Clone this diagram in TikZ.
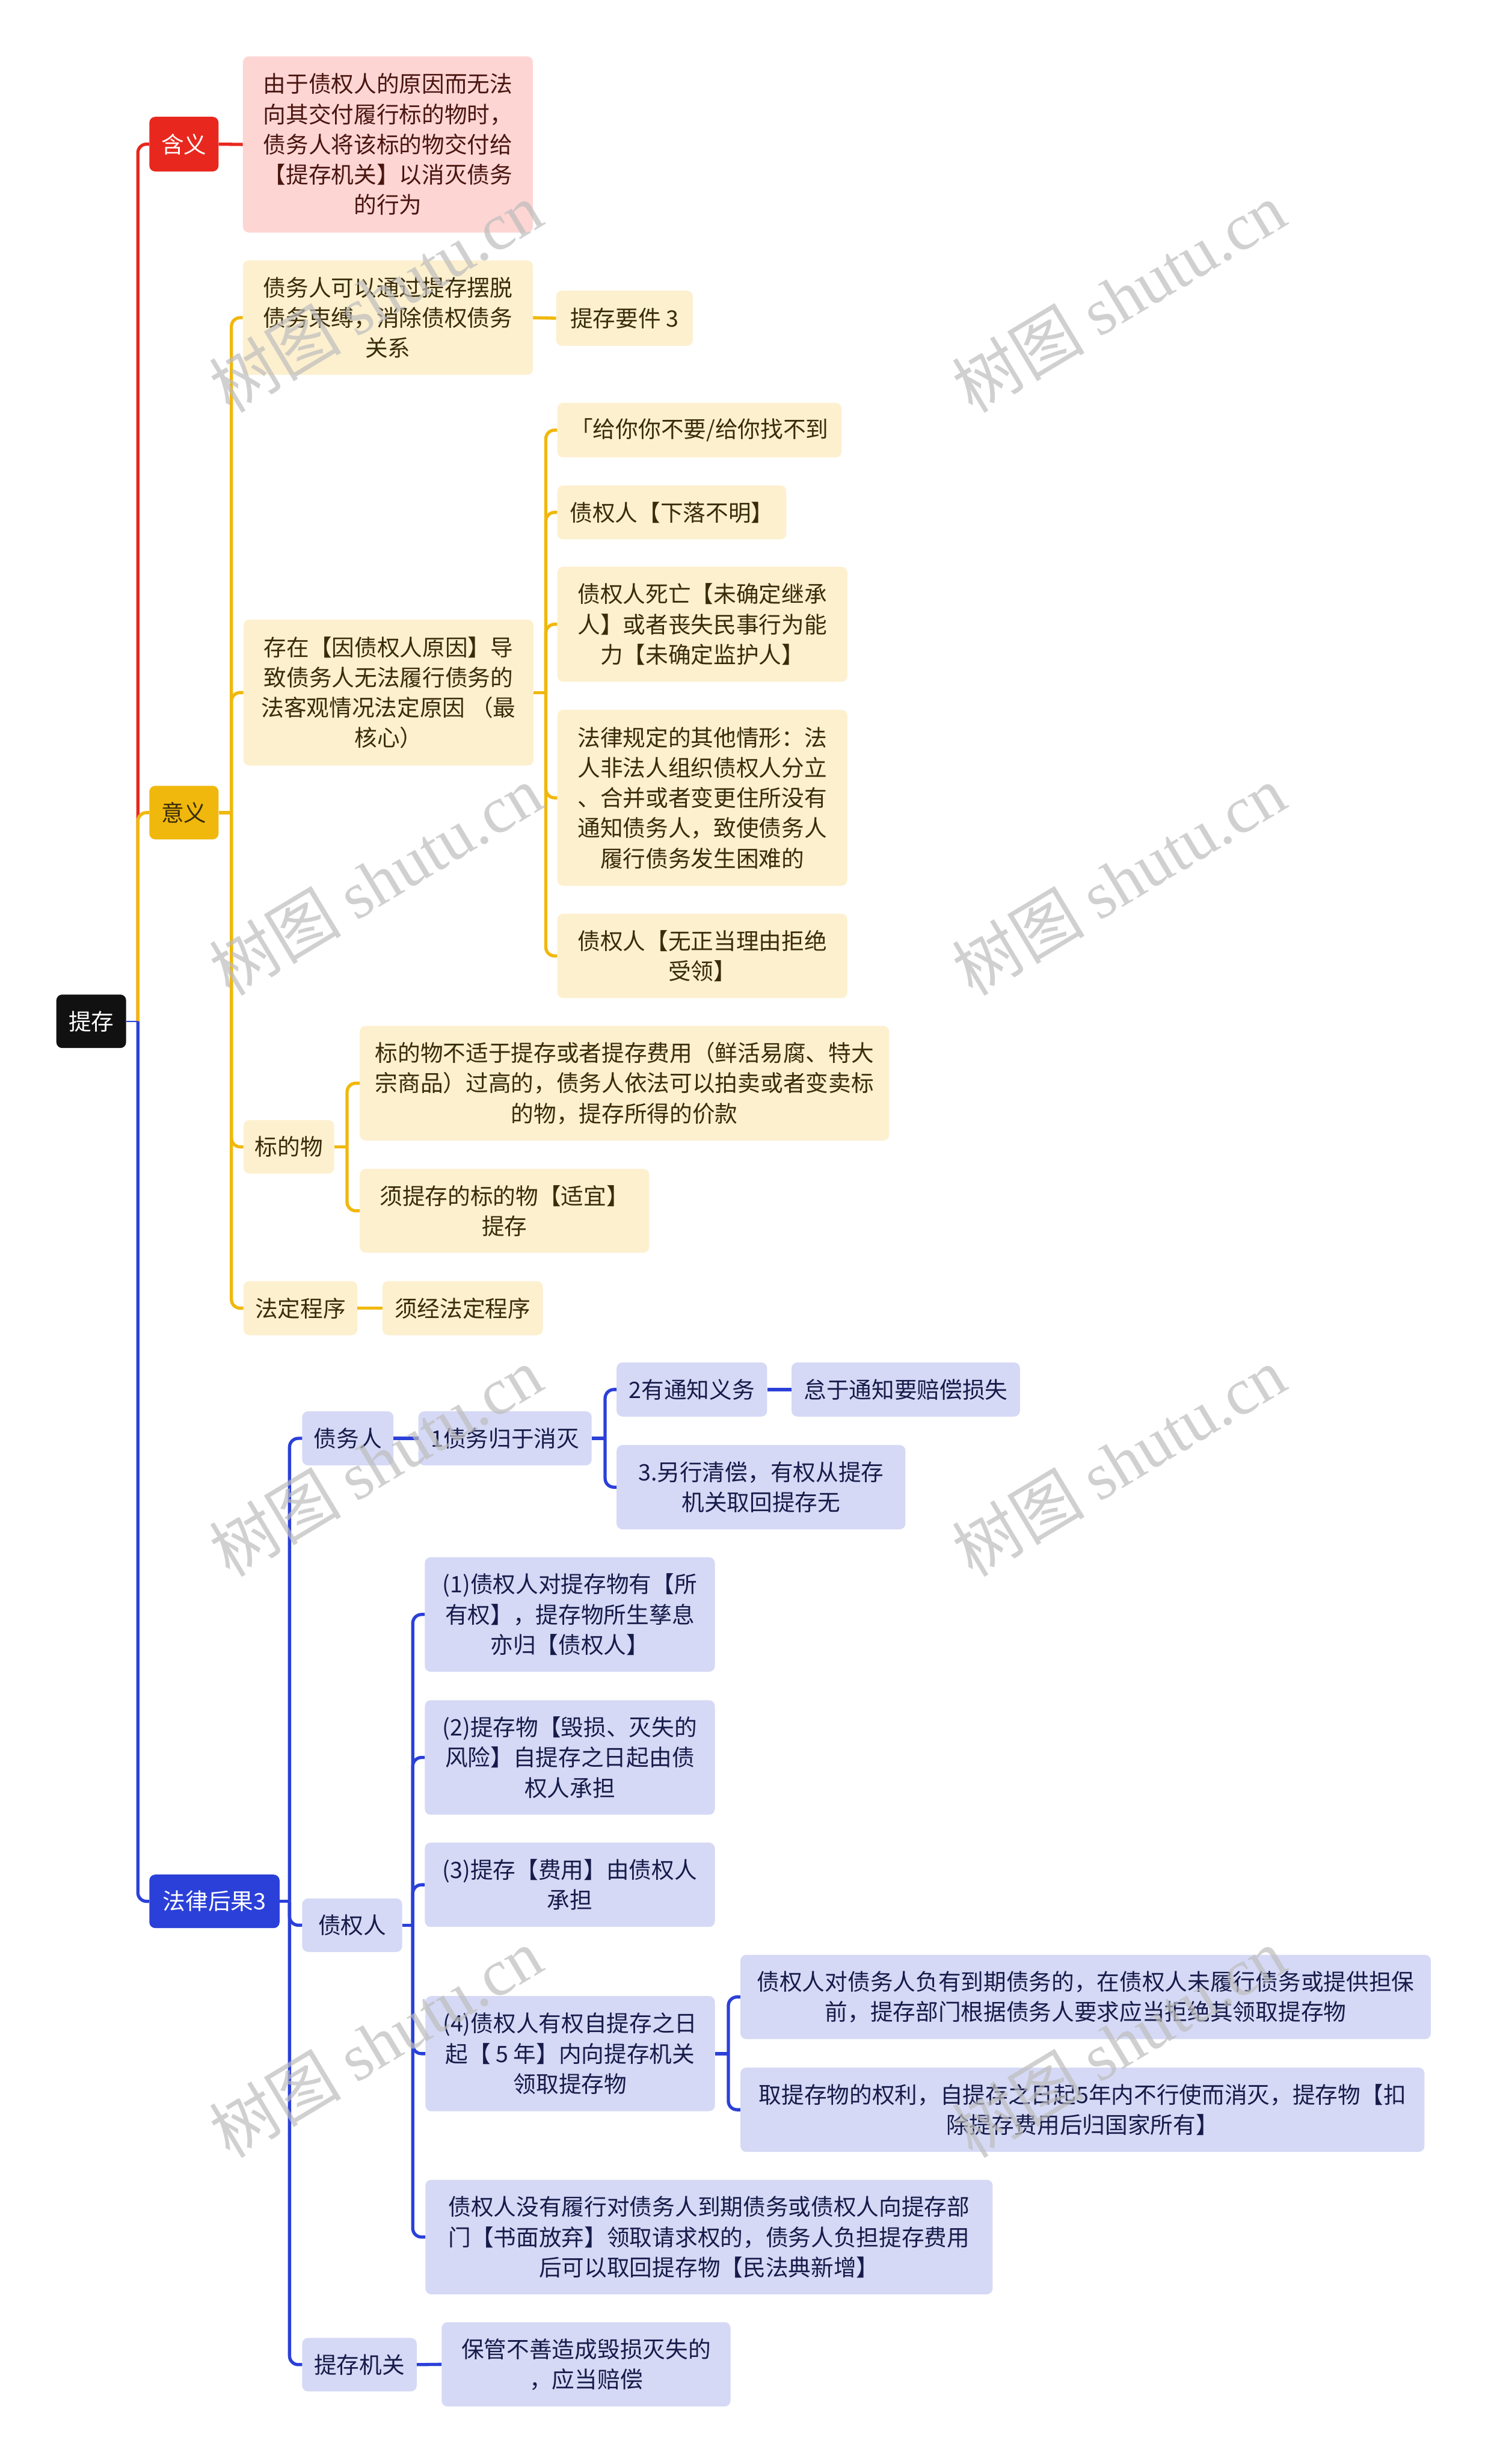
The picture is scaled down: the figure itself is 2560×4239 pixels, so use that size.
\documentclass[tikz,border=0pt]{standalone}
\usepackage{fontspec}
\setmainfont{Noto Sans CJK SC}
\newfontfamily\wmserif{Liberation Serif}
\newcommand\nfont{\fontsize{39pt}{52pt}\selectfont}
\newcommand\wmfont{\fontsize{114pt}{120pt}\selectfont}
\definecolor{cRed}{HTML}{E8281E}
\definecolor{cPink}{HTML}{FDD6D4}
\definecolor{cPinkT}{HTML}{4A1510}
\definecolor{cYel}{HTML}{F0B80C}
\definecolor{cYelL}{HTML}{FDF0CF}
\definecolor{cYelT}{HTML}{3A2C0B}
\definecolor{cBlue}{HTML}{2B40D8}
\definecolor{cBlueL}{HTML}{D5D9F5}
\definecolor{cBlueT}{HTML}{161B4A}
\definecolor{cBlack}{HTML}{111111}
\definecolor{cWm}{HTML}{BDBDBD}
\begin{document}
\begin{tikzpicture}[x=1pt,y=-1pt,
  nbox/.style={rounded corners=10pt, inner sep=0pt, align=center, font=\nfont},
  sz/.style 2 args={minimum width=#1, minimum height=#2},
  rootbox/.style={nbox, fill=cBlack, text=white},
  redbox/.style={nbox, fill=cRed, text=white},
  pinkbox/.style={nbox, fill=cPink, text=cPinkT},
  yelbox/.style={nbox, fill=cYel, text=cYelT},
  ylbox/.style={nbox, fill=cYelL, text=cYelT},
  bluebox/.style={nbox, fill=cBlue, text=white},
  blbox/.style={nbox, fill=cBlueL, text=cBlueT},
  rline/.style={draw=cRed, line width=5.5pt, rounded corners=15pt},
  yline/.style={draw=cYel, line width=5.5pt, rounded corners=15pt},
  bline/.style={draw=cBlue, line width=5.5pt, rounded corners=15pt},
  wm/.style={text=cWm, opacity=0.7, font=\wmfont, inner sep=0pt, rotate=31}
]
\useasboundingbox (0,0) rectangle (2560,4239);
\fill[white] (0,0) rectangle (2560,4239);

% root
\node[rootbox, sz={120}{92}] (rootn) at (157,1757) {提存};

% red branch
\node[redbox, sz={119}{94}] (hanyi) at (316.5,248) {含义};
\node[pinkbox, sz={499}{303}] (hanyiT) at (667.5,248.5) {由于债权人的原因而无法\\向其交付履行标的物时，\\债务人将该标的物交付给\\【提存机关】以消灭债务\\的行为};

% yellow branch
\node[yelbox, sz={119}{92}] (yiyi) at (316.5,1398) {意义};
\node[ylbox, sz={499}{197}] (y1) at (667.5,546.5) {债务人可以通过提存摆脱\\债务束缚，消除债权债务\\关系};
\node[ylbox, sz={235}{95}] (y1a) at (1074.5,547.5) {提存要件 3};
\node[ylbox, sz={499}{251}] (y2) at (668.5,1191.5) {存在【因债权人原因】导\\致债务人无法履行债务的\\法客观情况法定原因 （最\\核心）};
\node[ylbox, sz={489}{94}] (y2a) at (1203.5,740) {「给你你不要/给你找不到};
\node[ylbox, sz={394}{93}] (y2b) at (1156,881.5) {债权人【下落不明】};
\node[ylbox, sz={499}{198}] (y2c) at (1208.5,1074) {债权人死亡【未确定继承\\人】或者丧失民事行为能\\力【未确定监护人】};
\node[ylbox, sz={499}{303}] (y2d) at (1208.5,1372.5) {法律规定的其他情形：法\\人非法人组织债权人分立\\、合并或者变更住所没有\\通知债务人，致使债务人\\履行债务发生困难的};
\node[ylbox, sz={499}{145}] (y2e) at (1208.5,1644.5) {债权人【无正当理由拒绝\\受领】};
\node[ylbox, sz={156}{92}] (y3) at (497,1973) {标的物};
\node[ylbox, sz={911}{197}] (y3a) at (1074.5,1863.5) {标的物不适于提存或者提存费用（鲜活易腐、特大\\宗商品）过高的，债务人依法可以拍卖或者变卖标\\的物，提存所得的价款};
\node[ylbox, sz={498}{144}] (y3b) at (868,2083) {须提存的标的物【适宜】\\提存};
\node[ylbox, sz={196}{93}] (y4) at (517,2250.5) {法定程序};
\node[ylbox, sz={276}{93}] (y4a) at (796,2250.5) {须经法定程序};

% blue branch
\node[bluebox, sz={224}{92}] (flhg) at (369,3271) {法律后果3};
\node[blbox, sz={157}{93}] (b1) at (598.5,2474.5) {债务人};
\node[blbox, sz={298}{93}] (b1a) at (869,2474.5) {1债务归于消灭};
\node[blbox, sz={259}{93}] (b1a1) at (1190.5,2390.5) {2有通知义务};
\node[blbox, sz={393}{93}] (b1a1a) at (1558.5,2390.5) {怠于通知要赔偿损失};
\node[blbox, sz={497}{145}] (b1a2) at (1309.5,2558.5) {3.另行清偿，有权从提存\\机关取回提存无};
\node[blbox, sz={172}{92}] (b2) at (606,3312) {债权人};
\node[blbox, sz={499}{197}] (b2a) at (980.5,2777.5) {(1)债权人对提存物有【所\\有权】，提存物所生孳息\\亦归【债权人】};
\node[blbox, sz={499}{197}] (b2b) at (980.5,3023.5) {(2)提存物【毁损、灭失的\\风险】自提存之日起由债\\权人承担};
\node[blbox, sz={499}{145}] (b2c) at (980.5,3242.5) {(3)提存【费用】由债权人\\承担};
\node[blbox, sz={498}{198}] (b2d) at (981,3533) {(4)债权人有权自提存之日\\起【 5 年】内向提存机关\\领取提存物};
\node[blbox, sz={1188}{145}] (b2d1) at (1868,3435.5) {债权人对债务人负有到期债务的，在债权人未履行债务或提供担保\\前，提存部门根据债务人要求应当拒绝其领取提存物};
\node[blbox, sz={1177}{145}] (b2d2) at (1862.5,3629.5) {取提存物的权利，自提存之日起5年内不行使而消灭，提存物【扣\\除提存费用后归国家所有】};
\node[blbox, sz={976}{197}] (b2e) at (1220,3848.5) {债权人没有履行对债务人到期债务或债权人向提存部\\门【书面放弃】领取请求权的，债务人负担提存费用\\后可以取回提存物【民法典新增】};
\node[blbox, sz={197}{92}] (b3) at (618.5,4068) {提存机关};
\node[blbox, sz={497}{145}] (b3a) at (1008.5,4067.5) {保管不善造成毁损灭失的\\，应当赔偿};

% junction coordinates
\coordinate (tj) at ([xshift=20pt]rootn.east);
\coordinate (yj) at ([xshift=22pt]yiyi.east);
\coordinate (y2j) at ([xshift=21pt]y2.east);
\coordinate (y3j) at ([xshift=22pt]y3.east);
\coordinate (bj) at ([xshift=17pt]flhg.east);
\coordinate (b1j) at ([xshift=23pt]b1a.east);
\coordinate (b2j) at ([xshift=18pt]b2.east);
\coordinate (b2dj) at ([xshift=23pt]b2d.east);

% trunk
\draw[rline] (tj) |- (hanyi.west);
\draw[yline] (tj) |- (yiyi.west);
\draw[bline] (tj) |- (flhg.west);
\draw[draw=cBlue, line width=2.5pt] (rootn.east) -- (tj);

% red
\draw[rline] (hanyi.east) -- (hanyiT.west);

% yellow
\draw[yline] (yiyi.east) -- (yj);
\foreach \c in {y1,y2,y3,y4} \draw[yline] (yj) |- (\c.west);
\draw[yline] (y1.east) -- (y1a.west);
\draw[yline] (y2.east) -- (y2j);
\foreach \c in {y2a,y2b,y2c,y2d,y2e} \draw[yline] (y2j) |- (\c.west);
\draw[yline] (y3.east) -- (y3j);
\foreach \c in {y3a,y3b} \draw[yline] (y3j) |- (\c.west);
\draw[yline] (y4.east) -- (y4a.west);

% blue
\draw[bline] (flhg.east) -- (bj);
\foreach \c in {b1,b2,b3} \draw[bline] (bj) |- (\c.west);
\draw[bline] (b1.east) -- (b1a.west);
\draw[bline] (b1a.east) -- (b1j);
\foreach \c in {b1a1,b1a2} \draw[bline] (b1j) |- (\c.west);
\draw[bline] (b1a1.east) -- (b1a1a.west);
\draw[bline] (b2.east) -- (b2j);
\foreach \c in {b2a,b2b,b2c,b2d,b2e} \draw[bline] (b2j) |- (\c.west);
\draw[bline] (b2d.east) -- (b2dj);
\foreach \c in {b2d1,b2d2} \draw[bline] (b2dj) |- (\c.west);
\draw[bline] (b3.east) -- (b3a.west);

% watermarks
\node[wm] (wm1) at (646,511) {树图 {\wmserif shutu.cn}};
\node[wm] (wm2) at (1925,511) {树图 {\wmserif shutu.cn}};
\node[wm] (wm3) at (646,1514) {树图 {\wmserif shutu.cn}};
\node[wm] (wm4) at (1925,1514) {树图 {\wmserif shutu.cn}};
\node[wm] (wm5) at (646,2514) {树图 {\wmserif shutu.cn}};
\node[wm] (wm6) at (1925,2514) {树图 {\wmserif shutu.cn}};
\node[wm] (wm7) at (646,3514) {树图 {\wmserif shutu.cn}};
\node[wm] (wm8) at (1925,3514) {树图 {\wmserif shutu.cn}};
\end{tikzpicture}
\end{document}
